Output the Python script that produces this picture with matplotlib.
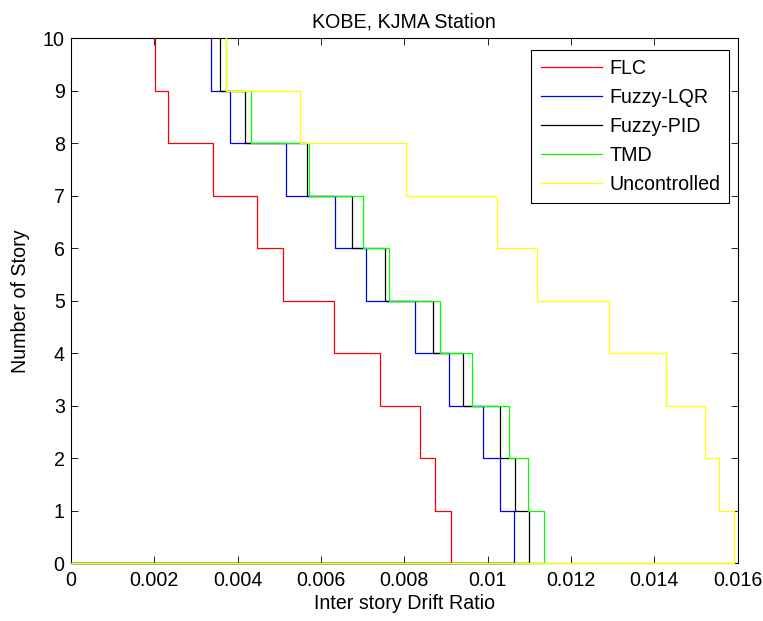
import matplotlib
matplotlib.use("Agg")
import matplotlib.pyplot as plt
import numpy as np

plt.rcParams['font.family'] = ['Liberation Sans', 'DejaVu Sans']

# Story levels (0..10) and inter-story drift ratio per story (story 1 .. 10)
stories = list(range(0, 11))
flc = [0.00911, 0.00874, 0.00838, 0.00742, 0.00631, 0.00509, 0.00447, 0.00340, 0.00232, 0.00202]
fuzzy_lqr = [0.01062, 0.01030, 0.00989, 0.00908, 0.00826, 0.00708, 0.00634, 0.00517, 0.00381, 0.00336]
fuzzy_pid = [0.01099, 0.01066, 0.01030, 0.00941, 0.00868, 0.00753, 0.00675, 0.00566, 0.00417, 0.00358]
tmd = [0.01135, 0.01096, 0.01052, 0.00963, 0.00886, 0.00764, 0.00701, 0.00570, 0.00432, 0.00372]
uncontrolled = [0.01592, 0.01556, 0.01521, 0.01427, 0.01291, 0.01118, 0.01022, 0.00804, 0.00550, 0.00373]

series_names = ['FLC', 'Fuzzy-LQR', 'Fuzzy-PID', 'TMD', 'Uncontrolled']
series_values = [flc, fuzzy_lqr, fuzzy_pid, tmd, uncontrolled]
series_colors = ['#ff0000', '#0000ff', '#000000', '#00ff00', '#ffff00']

xticks = [0, 0.002, 0.004, 0.006, 0.008, 0.010, 0.012, 0.014, 0.016]
xtick_labels = ['0', '0.002', '0.004', '0.006', '0.008', '0.01', '0.012', '0.014', '0.016']
yticks = list(range(0, 11))

fs = 14.1
fig = plt.figure(figsize=(7.63, 6.21), dpi=100)
ax = fig.add_axes([71 / 763, 1 - 563.3 / 621, (737.7 - 71) / 763, (563.3 - 38.3) / 621])

for name, vals, c in zip(series_names, series_values, series_colors):
    xs = [0.0] + list(vals)
    ax.step(xs, stories, where='post', color=c, lw=0.9, label=name,
            zorder=3, clip_on=False)

ax.set_xlim(0, 0.016)
ax.set_ylim(0, 10)
ax.set_xticks(xticks)
ax.set_xticklabels(xtick_labels)
ax.set_yticks(yticks)
ax.tick_params(direction='in', length=5, width=0.6, top=True, right=True,
               labelsize=fs, colors='black')
ax.tick_params(axis='x', pad=5.5)
ax.tick_params(axis='y', pad=4.5)
for s in ax.spines.values():
    s.set_linewidth(0.8)
    s.set_color('black')

ax.set_title('KOBE, KJMA Station', fontsize=fs, pad=8)
ax.set_xlabel('Inter story Drift Ratio', fontsize=fs, labelpad=3)
ax.set_ylabel('Number of Story', fontsize=fs, labelpad=9)

leg = ax.legend(loc='upper right', bbox_to_anchor=(0.9874, 0.978), borderaxespad=0,
                fontsize=fs, fancybox=False, framealpha=1, edgecolor='black',
                handlelength=3.15, handletextpad=0.35, labelspacing=0.51,
                borderpad=0.47)
leg.get_frame().set_linewidth(0.8)
leg.set_zorder(5)

fig.savefig('out.png', dpi=100)
